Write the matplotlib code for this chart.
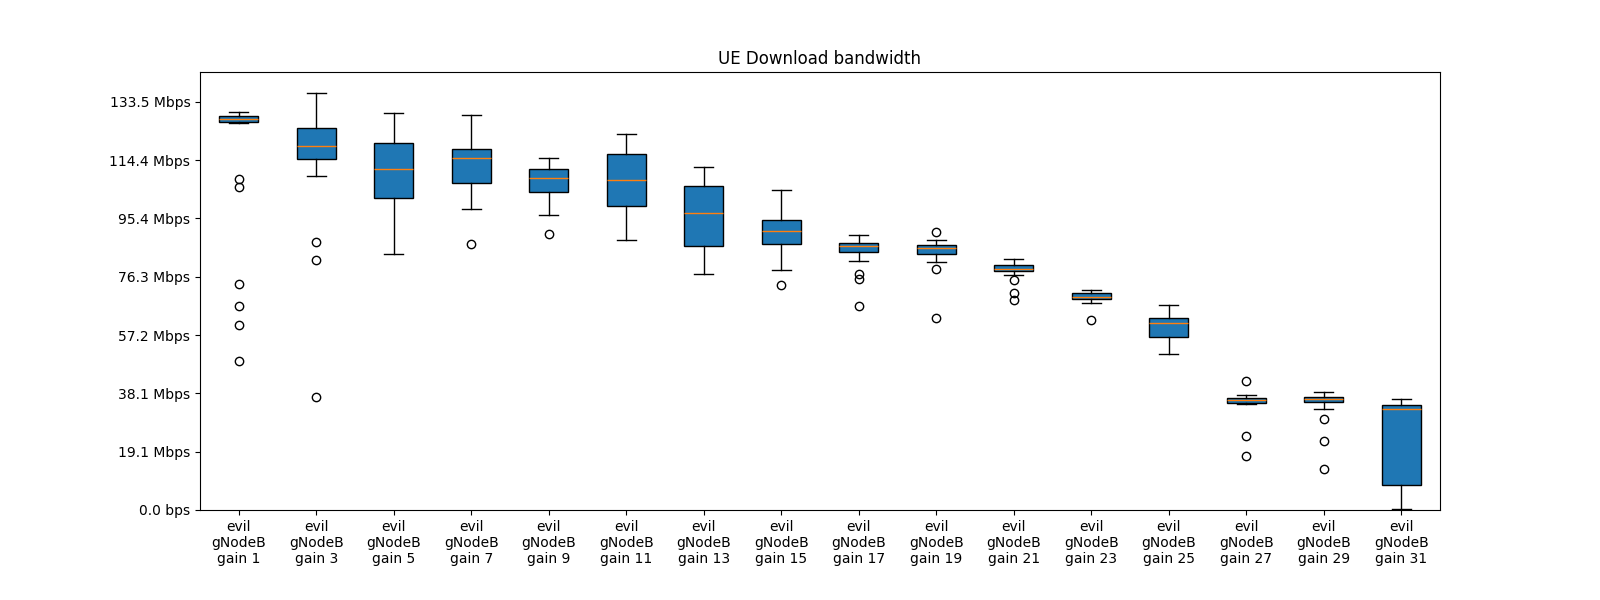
import matplotlib
matplotlib.use("Agg")
import matplotlib.pyplot as plt
import numpy as np
from matplotlib.ticker import FuncFormatter

# gain settings of the evil gNodeB
gains = [1, 3, 5, 7, 9, 11, 13, 15, 17, 19, 21, 23, 25, 27, 29, 31]

# box statistics, in Mbps
whis_hi = [130.0, 136.2, 129.7, 129.2, 115.0, 122.9, 112.0, 104.5, 89.8, 88.2, 82.0, 71.8, 66.9, 37.6, 38.5, 36.2]
q3 = [128.9, 124.8, 120.0, 117.9, 111.4, 116.4, 106.0, 94.7, 87.2, 86.5, 80.1, 70.8, 62.7, 36.7, 36.9, 34.2]
medians = [127.7, 118.9, 111.4, 115.0, 108.5, 107.8, 97.0, 91.1, 86.2, 85.7, 78.9, 69.6, 61.0, 35.9, 36.2, 32.9]
q1 = [126.9, 114.7, 101.9, 106.8, 103.9, 99.3, 86.2, 86.9, 84.3, 83.6, 78.0, 69.1, 56.5, 35.1, 35.2, 8.1]
whis_lo = [126.4, 109.1, 83.7, 98.3, 96.4, 88.2, 77.1, 78.4, 81.3, 81.0, 76.7, 67.6, 50.9, 34.8, 32.9, 0.2]
outliers = [
    [108.1, 105.7, 73.8, 66.6, 60.4, 48.6],
    [87.5, 81.6, 36.8],
    [],
    [86.9],
    [90.1],
    [],
    [],
    [73.6],
    [77.2, 75.4, 66.6],
    [90.8, 78.7, 62.7],
    [75.1, 70.9, 68.7],
    [62.1],
    [],
    [42.1, 24.1, 17.6],
    [29.7, 22.5, 13.3],
    [],
]


def human_bps(value, pos=None):
    # value is in Mbps
    bps = value * 1e6
    for unit in ["bps", "Kbps", "Mbps", "Gbps"]:
        if abs(bps) < 1000:
            return f"{bps:.1f} {unit}"
        bps /= 1000
    return f"{bps:.1f} Tbps"


stats = []
for i in range(len(gains)):
    stats.append({
        "med": medians[i],
        "q1": q1[i],
        "q3": q3[i],
        "whislo": whis_lo[i],
        "whishi": whis_hi[i],
        "fliers": outliers[i],
    })

fig, ax = plt.subplots(figsize=(16, 6), dpi=100)
fig.subplots_adjust(bottom=0.15)

ax.bxp(stats, patch_artist=True)
ax.set_xticks(range(1, len(gains) + 1))
ax.set_xticklabels([f"evil\ngNodeB\ngain {g}" for g in gains])

ax.set_ylim(0, 143.2)
ax.set_yticks(np.linspace(0, 133.5, 8))
ax.yaxis.set_major_formatter(FuncFormatter(human_bps))
ax.set_title("UE Download bandwidth")

plt.savefig("out.png")
